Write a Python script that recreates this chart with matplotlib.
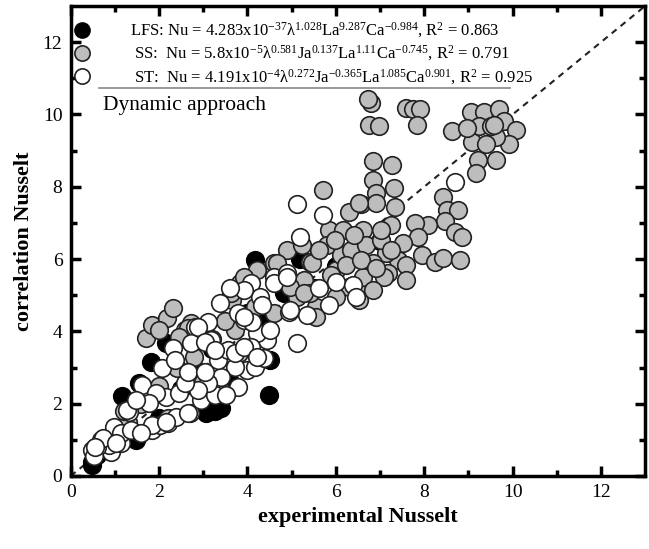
import matplotlib.pyplot as plt
from matplotlib.lines import Line2D

plt.rcParams['font.family'] = ['Liberation Serif', 'DejaVu Serif']
plt.rcParams['mathtext.fontset'] = 'custom'
plt.rcParams['mathtext.rm'] = 'Liberation Serif'
plt.rcParams['mathtext.it'] = 'Liberation Serif'
plt.rcParams['mathtext.bf'] = 'Liberation Serif:bold'

# LFS correlation (black)
lfs_exp = [0.49, 0.60, 0.47, 1.16, 1.47, 1.54, 1.81, 2.15, 3.06, 3.26, 3.40, 4.49,
           4.51, 4.38, 4.16, 4.83, 1.23, 0.87, 2.5, 2.8, 3.2, 3.6, 5.5, 6.0, 6.5,
           7.0, 5.2, 4.0, 2.0, 1.0]
lfs_cor = [0.39, 0.58, 0.30, 2.22, 1.00, 2.58, 3.16, 3.68, 1.75, 1.80, 1.88, 2.24,
           3.21, 4.27, 5.98, 5.07, 1.41, 1.00, 2.4, 3.0, 3.5, 2.6, 5.2, 5.8, 6.2,
           6.5, 6.0, 4.5, 1.6, 0.9]

# SS correlation (grey)
ss_exp = [6.79, 6.73, 6.75, 6.97, 7.58, 7.75, 7.91, 7.84, 8.63, 9.07, 9.36, 9.70,
          9.81, 10.08, 9.92, 9.63, 9.25, 9.09, 9.21, 9.18, 9.63, 8.98, 9.52, 9.59,
          9.41,
          6.84, 7.28, 7.31, 6.84, 6.91, 7.35, 5.72, 6.57, 6.91, 8.42, 8.51, 8.76,
          8.47, 8.69, 8.85, 8.09, 7.80, 7.87, 7.51, 7.96, 8.25, 8.42, 8.80, 7.40,
          7.13, 7.17, 7.08, 6.53, 6.08, 5.41, 5.27, 5.56, 5.12, 6.30, 6.53, 5.85,
          6.17, 6.61, 6.46, 6.84, 6.61, 6.30, 6.01, 6.53, 6.84, 4.89, 5.45, 4.22,
          4.60, 3.66, 3.82, 5.41, 5.56, 6.01,
          5.79, 6.12, 6.35, 6.68, 7.02, 7.24, 6.23, 6.57, 6.91, 7.58, 5.90, 5.61,
          5.23, 7.58, 6.41, 5.97, 7.24, 7.02,
          2.59, 2.73, 4.16, 3.62, 3.93, 4.67, 4.96, 5.27, 3.71, 4.60, 1.70, 1.83,
          2.17, 2.32, 2.66, 2.44, 1.99,
          1.0, 1.3, 1.6, 2.0, 2.4, 2.8, 3.2, 3.5, 1.2, 0.7, 2.2, 3.0, 3.8]
ss_cor = [10.33, 10.42, 9.72, 9.67, 10.19, 10.14, 10.14, 9.72, 9.53, 10.06, 10.08,
          10.14, 9.81, 9.58, 9.17, 9.39, 9.67, 9.25, 8.75, 8.39, 8.75, 9.64, 9.67,
          9.72, 9.17,
          8.70, 8.61, 7.98, 8.20, 7.84, 7.45, 7.92, 7.51, 7.56, 7.73, 7.37, 7.37,
          7.04, 6.76, 6.62, 6.95, 7.01, 6.62, 6.45, 6.12, 5.93, 6.04, 5.98, 5.98,
          6.18, 5.62, 5.51, 5.07, 5.24, 5.93, 5.43, 4.68, 4.96, 7.29, 7.56, 6.81,
          6.81, 6.81, 6.34, 5.90, 5.51, 5.24, 4.96, 4.88, 5.15, 6.26, 5.90, 5.71,
          5.90, 4.88, 5.35, 5.07, 4.40, 5.71,
          6.40, 6.12, 6.26, 6.40, 6.54, 6.26, 5.84, 5.98, 5.76, 5.84, 5.57, 6.26,
          6.40, 5.43, 6.68, 6.54, 6.95, 6.81,
          4.04, 4.24, 4.68, 5.07, 5.51, 5.90, 5.24, 5.07, 4.04, 4.52, 3.82, 4.18,
          4.38, 4.65, 4.10, 3.85, 4.04,
          1.2, 1.5, 2.0, 2.5, 3.0, 3.3, 3.8, 4.3, 1.8, 0.8, 1.6, 2.6, 3.4]

# ST correlation (white)
st_exp = [0.49, 0.69, 0.92, 1.14, 1.32, 1.65, 1.83, 2.03, 2.21, 2.39, 2.70, 2.95,
          3.49, 3.78, 2.15, 2.44, 0.87, 0.98, 0.60, 0.53,
          3.11, 2.82, 2.73, 2.32, 2.06, 2.37, 1.61, 1.27, 0.72, 0.54, 1.83, 2.15,
          2.66, 3.26, 3.51, 4.00, 4.16, 4.38, 4.45, 4.22, 3.93, 3.78, 4.07, 3.71,
          3.40, 3.11, 2.88, 2.59, 2.66, 3.04, 3.33, 3.55, 3.17, 1.94, 1.77, 1.47,
          1.14, 1.36, 1.59, 1.03,
          5.12, 5.72, 5.18, 4.60, 4.07, 4.89, 4.29, 3.37, 4.94, 5.34, 5.85, 5.61,
          6.01, 6.39, 6.46, 5.12, 8.69,
          2.88, 3.04, 3.26, 3.71, 3.93, 4.22, 4.11, 4.51, 4.60, 4.89, 4.96, 3.93,
          3.93, 3.60, 4.34]
st_cor = [0.72, 1.00, 0.66, 0.91, 1.77, 2.38, 1.27, 1.41, 1.47, 1.63, 1.75, 2.10,
          2.30, 2.47, 2.19, 2.30, 0.86, 1.36, 0.80, 0.55,
          4.27, 4.13, 3.68, 3.55, 2.99, 3.21, 2.52, 1.83, 1.05, 0.80, 1.41, 1.50,
          1.75, 2.24, 2.24, 2.94, 3.02, 3.27, 3.77, 3.96, 4.32, 4.52, 3.57, 3.02,
          2.74, 2.58, 2.38, 2.58, 2.88, 2.88, 3.21, 3.49, 3.77, 2.30, 2.02, 2.11,
          1.19, 1.27, 1.19, 0.91,
          7.51, 7.23, 6.62, 5.51, 5.35, 5.62, 4.96, 4.79, 4.54, 4.46, 4.74, 5.21,
          5.37, 5.29, 4.96, 3.68, 8.14,
          4.13, 3.71, 3.49, 3.41, 3.57, 3.30, 4.27, 4.04, 5.35, 5.51, 4.60, 4.40,
          5.15, 5.21, 4.74]

lfs_label = ('LFS: Nu = 4.283x10$^{-37}$λ$^{1.028}$La$^{9.287}$Ca$^{-0.984}$, '
             'R$^{2}$ = 0.863')
ss_label = (' SS:  Nu = 5.8x10$^{-5}$λ$^{0.581}$Ja$^{0.137}$La$^{1.11}$Ca$^{-0.745}$, '
            'R$^{2}$ = 0.791')
st_label = (' ST:  Nu = 4.191x10$^{-4}$λ$^{0.272}$Ja$^{-0.365}$La$^{1.085}$Ca$^{0.901}$, '
            'R$^{2}$ = 0.925')

fig = plt.figure(figsize=(6.49, 5.49), dpi=100)
ax = fig.add_axes([0.109, 0.133, 0.885, 0.856])

ax.plot([0, 13], [0, 13], color='#222222', linestyle=(0, (3, 2.5)), linewidth=1.5, zorder=1)

sz = 160
ax.scatter(lfs_exp, lfs_cor, s=sz, c='black', edgecolors='black', linewidths=1.2, zorder=2)
ax.scatter(ss_exp, ss_cor, s=sz, c='#bdbdbd', edgecolors='#222222', linewidths=1.2, zorder=3)
ax.scatter(st_exp, st_cor, s=sz, c='white', edgecolors='#222222', linewidths=1.2, zorder=4)

ax.set_xlim(0, 13)
ax.set_ylim(0, 13)
ax.set_xticks(range(0, 13, 2))
ax.set_yticks(range(0, 13, 2))
ax.set_xticks(range(1, 13, 2), minor=True)
ax.set_yticks(range(1, 13, 2), minor=True)
ax.tick_params(which='both', direction='in', top=True, right=True, labelsize=14, pad=6)
ax.tick_params(which='major', length=7, width=2.5)
ax.tick_params(which='minor', length=4, width=2.5)
for sp in ax.spines.values():
    sp.set_linewidth(2.5)

ax.set_xlabel('experimental Nusselt', fontsize=16, fontweight='bold', labelpad=4)
ax.set_ylabel('correlation Nusselt', fontsize=16, fontweight='bold', labelpad=6)

handles = [
    Line2D([], [], linestyle='none', marker='o', markersize=11,
           markerfacecolor='black', markeredgecolor='black'),
    Line2D([], [], linestyle='none', marker='o', markersize=11,
           markerfacecolor='#bdbdbd', markeredgecolor='#222222', markeredgewidth=1.2),
    Line2D([], [], linestyle='none', marker='o', markersize=11,
           markerfacecolor='white', markeredgecolor='#222222', markeredgewidth=1.2),
]
leg = ax.legend(handles, [lfs_label, ss_label, st_label], loc='upper left',
                bbox_to_anchor=(-0.0157, 0.994), frameon=False, fontsize=12,
                handlelength=1.0, handletextpad=2.37, labelspacing=0.22,
                borderaxespad=0.3)

ax.plot([0.05, 0.765], [0.826, 0.826], transform=ax.transAxes, color='#888888',
        linewidth=1.2, zorder=5)
ax.text(0.056, 0.789, 'Dynamic approach', transform=ax.transAxes, fontsize=15.5,
        va='center', ha='left')

fig.savefig('out.png', dpi=100)
